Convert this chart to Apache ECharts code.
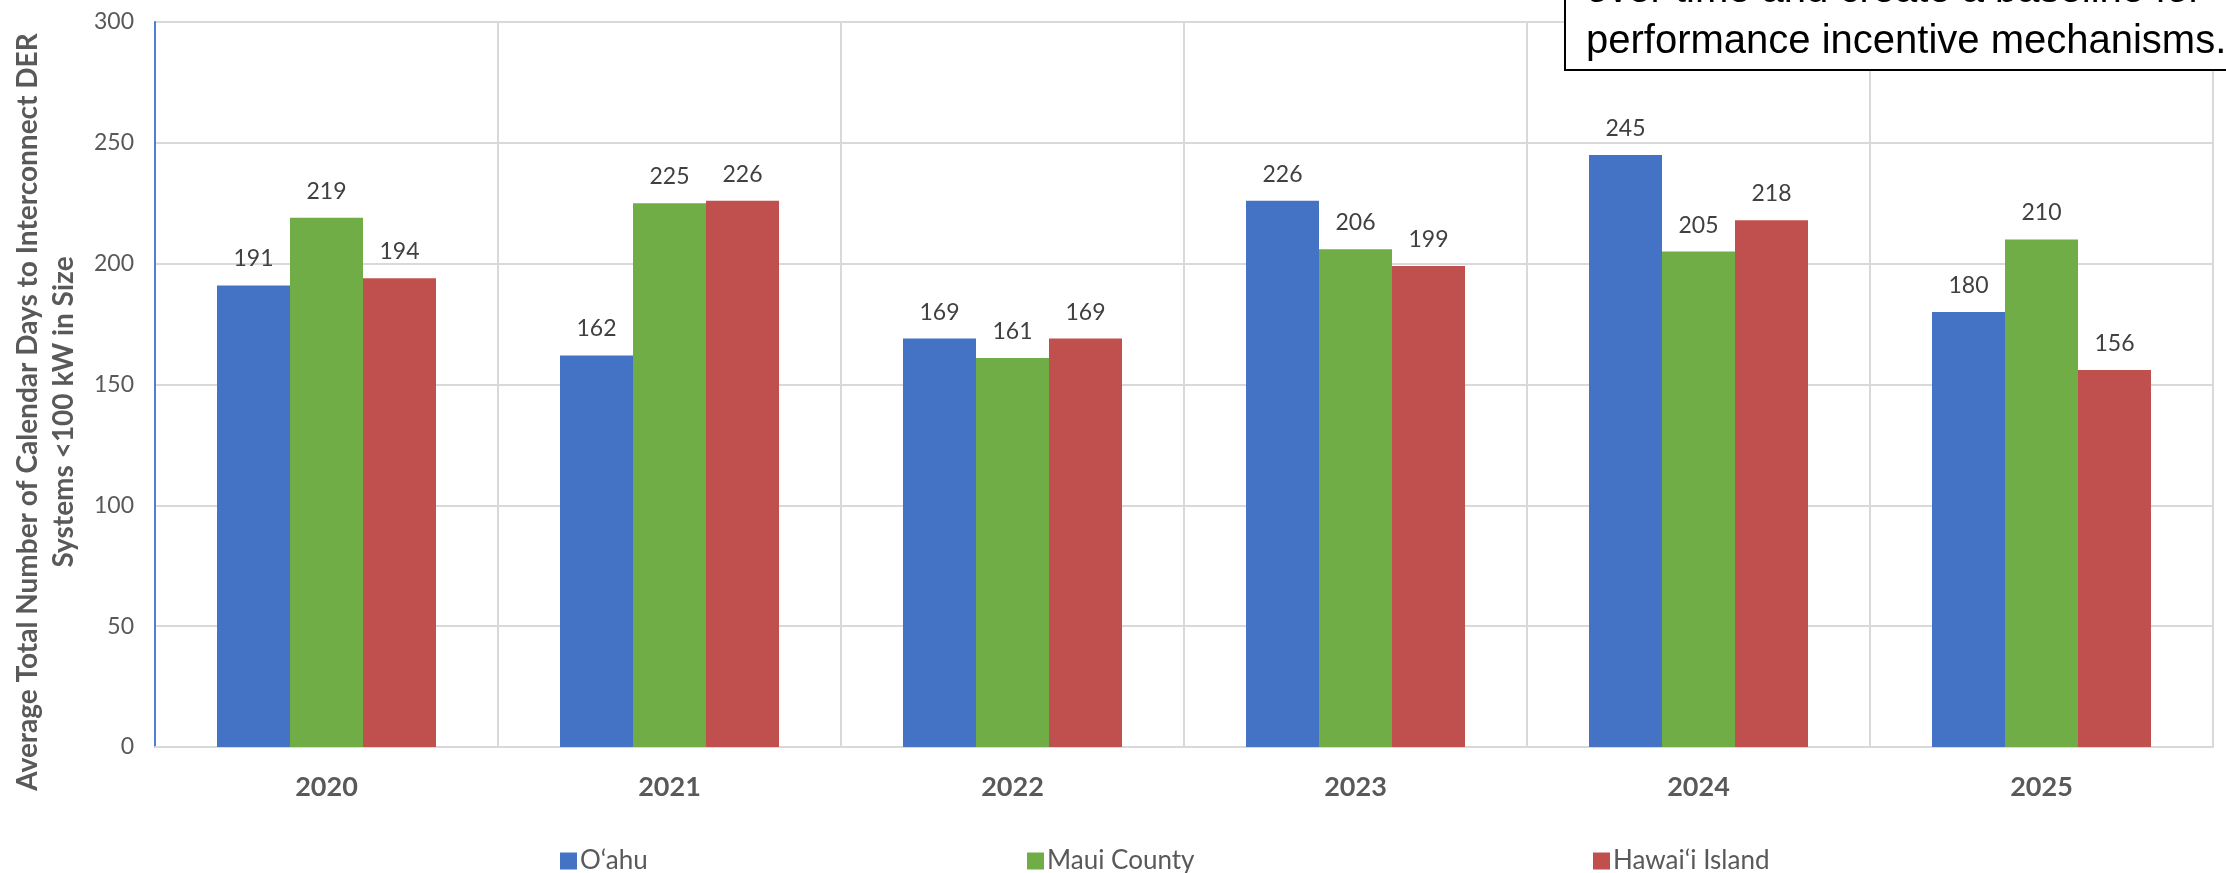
<!DOCTYPE html>
<html>
<head>
<meta charset="utf-8">
<script src="https://cdn.jsdelivr.net/npm/echarts@6/dist/echarts.min.js"></script>
<style>
html,body{margin:0;padding:0;background:#fff;}
#chart{width:2226px;height:873px;}
</style>
</head>
<body>
<div id="chart"></div>
<script>
const categories = ['2020', '2021', '2022', '2023', '2024', '2025'];
const oahu = [191, 162, 169, 226, 245, 180];
const maui = [219, 225, 161, 206, 205, 210];
const hawaii = [194, 226, 169, 199, 218, 156];
const seriesNames = ['O‘ahu', 'Maui County', 'Hawai‘i Island'];
const yTicks = [0, 50, 100, 150, 200, 250, 300];
const yAxisTitle = 'Average Total Number of Calendar Days to Interconnect DER\nSystems <100 kW in Size';
const noteLines = ['over time and create a baseline for', 'performance incentive mechanisms.'];

const colors = ['#4472C4', '#70AD47', '#C0504D'];
const font = 'Lato, "Open Sans", sans-serif';

const chart = echarts.init(document.getElementById('chart'), null, {renderer: 'canvas'});

function barSeries(name, data, color) {
  return {
    name: name,
    type: 'bar',
    data: data,
    barWidth: 73,
    barGap: '0%',
    itemStyle: {color: color},
    label: {
      show: true,
      position: 'top',
      distance: 15,
      color: '#404040',
      fontFamily: font,
      fontSize: 23
    }
  };
}

const legendBase = {
  orient: 'horizontal',
  top: 843,
  icon: 'rect',
  itemWidth: 17,
  itemHeight: 17,
  itemGap: 10,
  textStyle: {color: '#595959', fontFamily: font, fontSize: 26, padding: [0, 0, 0, -2]},
  selectedMode: false
};

chart.setOption({
  animation: false,
  backgroundColor: '#ffffff',
  grid: {left: 155, right: 13, top: 22, bottom: 126, containLabel: false},
  legend: [
    Object.assign({}, legendBase, {data: [seriesNames[0]], left: 555}),
    Object.assign({}, legendBase, {data: [seriesNames[1]], left: 1022}),
    Object.assign({}, legendBase, {data: [seriesNames[2]], left: 1588})
  ],
  xAxis: {
    type: 'category',
    data: categories,
    boundaryGap: true,
    axisLine: {show: true, lineStyle: {color: '#D9D9D9', width: 2}},
    axisTick: {show: false},
    splitLine: {show: true, interval: 0, lineStyle: {color: '#D9D9D9', width: 2}},
    axisLabel: {
      color: '#595959',
      fontFamily: font,
      fontSize: 27,
      fontWeight: 'bold',
      margin: 27
    }
  },
  yAxis: {
    type: 'value',
    min: yTicks[0],
    max: yTicks[yTicks.length - 1],
    interval: yTicks[1] - yTicks[0],
    axisLine: {show: true, lineStyle: {color: '#4E7FD0', width: 2}},
    axisTick: {show: false},
    splitLine: {show: true, lineStyle: {color: '#D9D9D9', width: 2}},
    axisLabel: {
      color: '#595959',
      fontFamily: font,
      fontSize: 23,
      margin: 21
    }
  },
  series: [
    barSeries(seriesNames[0], oahu, colors[0]),
    barSeries(seriesNames[1], maui, colors[1]),
    barSeries(seriesNames[2], hawaii, colors[2])
  ],
  graphic: [
    {
      type: 'text',
      x: 46,
      y: 412,
      rotation: Math.PI / 2,
      z: 100,
      style: {
        text: yAxisTitle,
        fill: '#595959',
        font: 'bold 28px ' + font,
        textAlign: 'center',
        textVerticalAlign: 'middle',
        verticalAlign: 'middle',
        align: 'center',
        lineHeight: 36
      }
    },
    {
      type: 'rect',
      z: 100,
      shape: {x: 1565, y: -10, width: 700, height: 80},
      style: {fill: '#ffffff', stroke: '#000000', lineWidth: 2}
    },
    {
      type: 'text',
      z: 101,
      x: 1586,
      y: -9,
      style: {
        text: noteLines[0],
        fill: '#000000',
        font: '40px "Liberation Sans", Arial, sans-serif',
        align: 'left',
        verticalAlign: 'middle',
        textAlign: 'left',
        textVerticalAlign: 'middle'
      }
    },
    {
      type: 'text',
      z: 101,
      x: 1586,
      y: 42,
      style: {
        text: noteLines[1],
        fill: '#000000',
        font: '40px "Liberation Sans", Arial, sans-serif',
        align: 'left',
        verticalAlign: 'middle',
        textAlign: 'left',
        textVerticalAlign: 'middle'
      }
    }
  ]
});
</script>
</body>
</html>
